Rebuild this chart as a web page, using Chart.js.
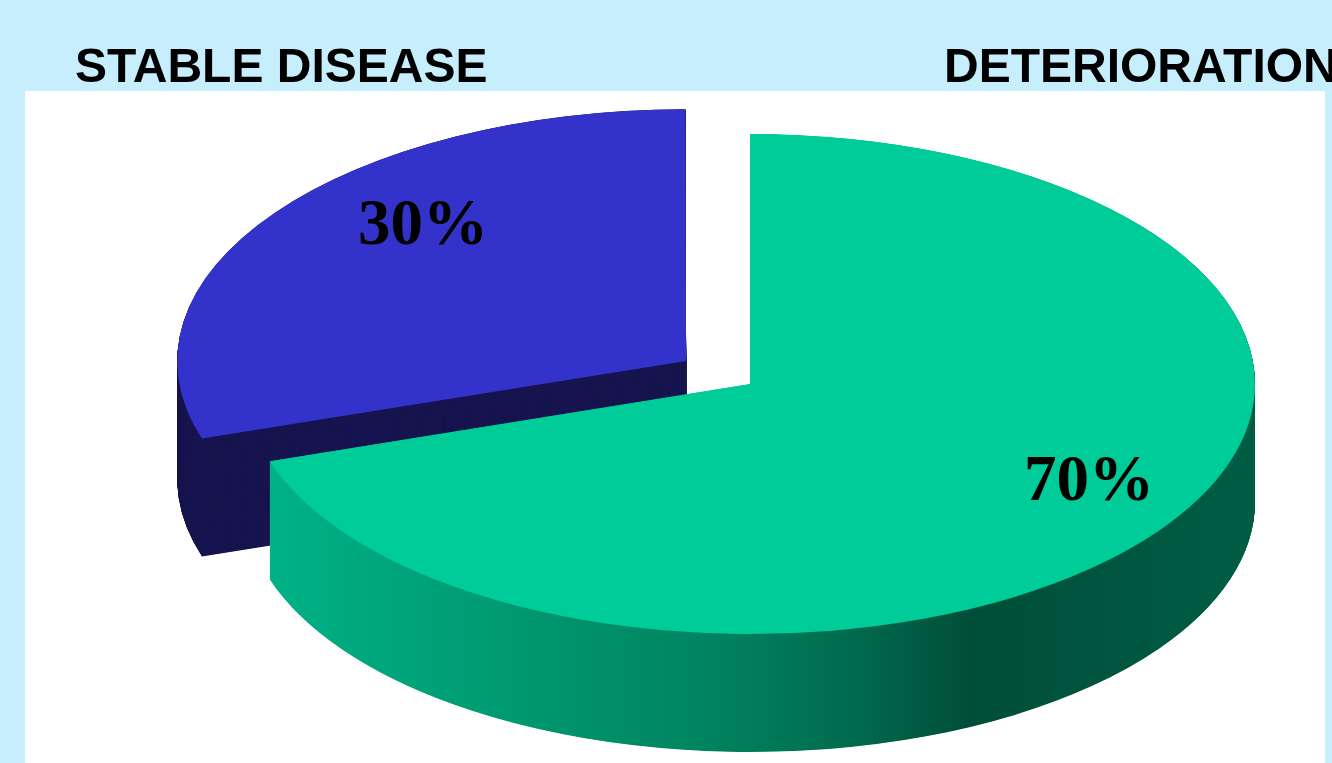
<!DOCTYPE html>
<html><head><meta charset="utf-8">
<script src="https://cdn.jsdelivr.net/npm/chart.js@4.4.1/dist/chart.umd.min.js"></script>
<style>html,body{margin:0;padding:0;background:#c6eefd;overflow:hidden}#wrap{width:1332px;height:763px;position:relative}</style>
</head><body><div id="wrap"><canvas id="c"></canvas></div>
<script>
// ---- data ----
const categories = ['DETERIORATION', 'STABLE DISEASE'];
const values = [70, 30];

// ---- 3D look settings ----
const SQUASH = 0.495;   // vertical tilt factor
const DEPTH = 118;      // thickness in screen px

function drawArcWith(ctx, arc, color) {
  const proxy = Object.create(arc);
  proxy.options = Object.assign({}, arc.options, {backgroundColor: color, borderWidth: 0, borderColor: color});
  arc.draw.call(proxy, ctx);
}

const pie3d = {
  id: 'pie3d',
  beforeDraw(chart) {
    const ctx = chart.ctx;
    ctx.save();
    ctx.fillStyle = '#c6eefd';
    ctx.fillRect(0, 0, chart.width, chart.height);
    ctx.fillStyle = '#ffffff';
    ctx.fillRect(25, 91, 1300, 672);
    ctx.restore();
  },
  beforeDatasetsDraw(chart) {
    const ctx = chart.ctx;
    const ds = chart.data.datasets[0];
    const arcs = chart.getDatasetMeta(0).data;
    const cy = arcs[0].y;
    const grad = ctx.createLinearGradient(245, 0, 1265, 0);
    grad.addColorStop(0, '#00b488');
    grad.addColorStop(0.25, '#009a72');
    grad.addColorStop(0.45, '#00845f');
    grad.addColorStop(0.60, '#006a4c');
    grad.addColorStop(0.71, '#004e38');
    grad.addColorStop(1, '#005e45');
    const sides = [grad, ds.sideColor[1]];
    // back (exploded blue) first, then front (green)
    [1, 0].forEach(i => {
      const arc = arcs[i];
      ctx.save();
      ctx.translate(0, cy);
      ctx.scale(1, SQUASH);
      ctx.translate(0, -cy);
      for (let d = DEPTH / SQUASH; d > 0; d -= 1) {
        ctx.save();
        ctx.translate(0, d);
        drawArcWith(ctx, arc, sides[i]);
        ctx.restore();
      }
      drawArcWith(ctx, arc, ds.backgroundColor[i]);
      ctx.restore();
    });
    return false;
  },
  afterDraw(chart) {
    const ctx = chart.ctx;
    const ds = chart.data.datasets[0];
    const arcs = chart.getDatasetMeta(0).data;
    const total = ds.data.reduce((a, b) => a + b, 0);
    ctx.save();
    ctx.fillStyle = '#000';
    ctx.font = 'bold 65px "Liberation Serif", "Times New Roman", serif';
    ctx.textAlign = 'center';
    ctx.textBaseline = 'middle';
    arcs.forEach((arc, i) => {
      const mid = (arc.startAngle + arc.endAngle) / 2 + ds.labelAngleShift[i] * Math.PI / 180;
      const fix = 1 - Math.sin(Math.min(Math.PI, arc.circumference));
      const off = (arc.options.offset || 0) / 4 * (1 + fix);
      const half = (arc.startAngle + arc.endAngle) / 2;
      const x = arc.x + Math.cos(half) * off + Math.cos(mid) * ds.labelRadius[i] * arc.outerRadius;
      const y = arc.y + (Math.sin(half) * off + Math.sin(mid) * ds.labelRadius[i] * arc.outerRadius) * SQUASH;
      ctx.fillText(Math.round(ds.data[i] / total * 100) + '%', x, y);
    });
    ctx.font = 'bold 48px "Liberation Sans", Arial, sans-serif';
    ctx.textAlign = 'left';
    ctx.textBaseline = 'alphabetic';
    ctx.fillText(categories[1], 75, 82);
    ctx.fillText(categories[0], 944, 82);
    ctx.restore();
  }
};

new Chart(document.getElementById('c'), {
  type: 'pie',
  data: {
    labels: categories,
    datasets: [{
      data: values,
      backgroundColor: ['#00cc99', '#3333cc'],
      sideColor: [null, '#17154f'],
      labelRadius: [0.78, 0.74],
      labelAngleShift: [-5.4, 9.9],
      borderWidth: 0,
      offset: [0, 316]
    }]
  },
  options: {
    responsive: true,
    maintainAspectRatio: false,
    animation: false,
    events: [],
    radius: 505,
    rotation: 0,
    layout: {padding: {left: 168, right: 0, top: 5, bottom: 0}},
    plugins: {legend: {display: false}, tooltip: {enabled: false}, title: {display: false}}
  },
  plugins: [pie3d]
});
</script>
<style>#wrap canvas{width:1332px!important;height:763px!important}</style>
</body></html>
